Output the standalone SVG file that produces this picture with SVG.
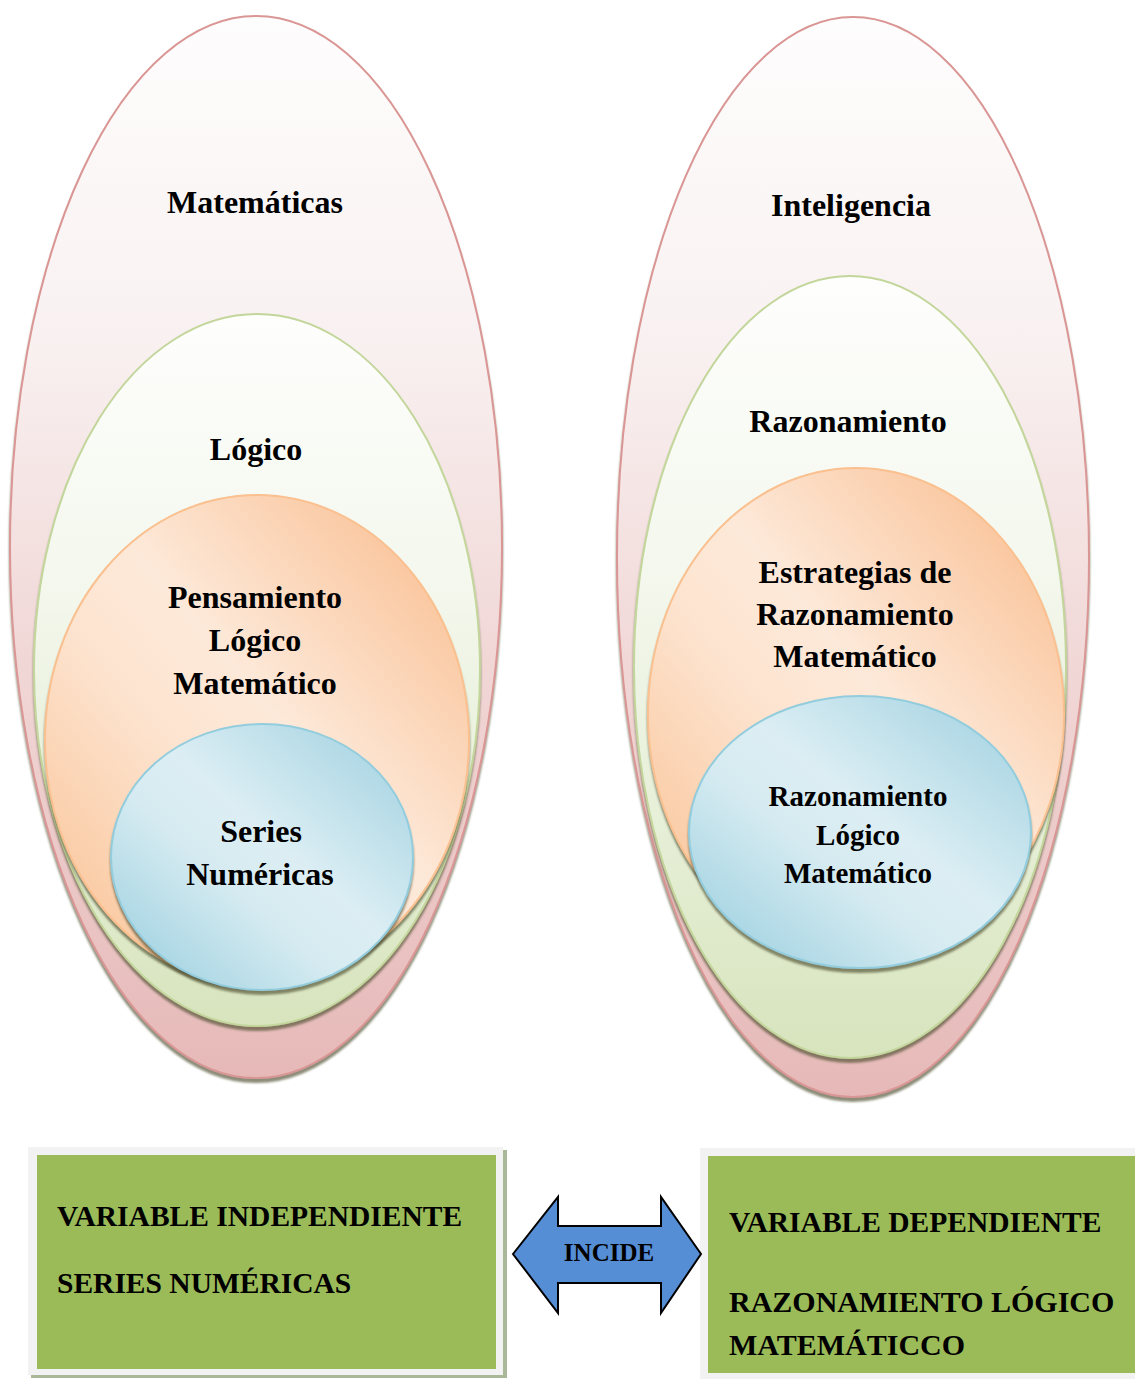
<svg xmlns="http://www.w3.org/2000/svg" width="1135" height="1379" viewBox="0 0 1135 1379">
<defs>
<style>
.t{font-family:"Liberation Serif","Times New Roman",serif;font-weight:bold;fill:#000;text-anchor:middle}
.big{font-size:32px}
.mid{font-size:29px}
.box{font-family:"Liberation Serif","Times New Roman",serif;font-weight:bold;fill:#000;font-size:29.5px}
.red{fill:url(#gRed);stroke:#d99694;stroke-width:2;filter:url(#sh)}
.grn{fill:url(#gGrn);stroke:#c3d69b;stroke-width:2;filter:url(#sh)}
.org{fill:url(#gOrg);stroke:#fac08f;stroke-width:2;filter:url(#sh)}
.blu{fill:url(#gBlu);stroke:#93cddd;stroke-width:2;filter:url(#sh)}
</style>
<filter id="sh" x="-10%" y="-10%" width="120%" height="120%">
<feDropShadow dx="0" dy="4" stdDeviation="1.2" flood-color="#50502f" flood-opacity="0.65"/>
</filter>
<linearGradient id="gRed" x1="0" y1="0" x2="0" y2="1">
<stop offset="0" stop-color="#fefdfd"/>
<stop offset="0.3" stop-color="#f9f1f1"/>
<stop offset="0.55" stop-color="#f2dcdb"/>
<stop offset="0.8" stop-color="#ebc8c7"/>
<stop offset="1" stop-color="#e6b9b8"/>
</linearGradient>
<linearGradient id="gGrn" x1="0" y1="0" x2="0" y2="1">
<stop offset="0" stop-color="#fefefd"/>
<stop offset="0.4" stop-color="#f3f7ec"/>
<stop offset="0.7" stop-color="#e6efd7"/>
<stop offset="1" stop-color="#d7e4bd"/>
</linearGradient>
<linearGradient id="gOrg" x1="1" y1="0" x2="0" y2="1">
<stop offset="0" stop-color="#f9b988"/>
<stop offset="0.45" stop-color="#fde9d9"/>
<stop offset="0.6" stop-color="#fde4d0"/>
<stop offset="1" stop-color="#f9bf8f"/>
</linearGradient>
<linearGradient id="gBlu" x1="1" y1="0" x2="0" y2="1">
<stop offset="0" stop-color="#9ccfdf"/>
<stop offset="0.45" stop-color="#dceef4"/>
<stop offset="0.6" stop-color="#d6ebf1"/>
<stop offset="0.85" stop-color="#add8e5"/>
<stop offset="1" stop-color="#c4e3ec"/>
</linearGradient>
</defs>

<g id="left-set">
<g id="matematicas"><ellipse class="red" cx="256" cy="547" rx="246" ry="531"/><text class="t big" x="255" y="213">Matemáticas</text></g>
<g id="logico"><ellipse class="grn" cx="257" cy="670" rx="223" ry="356"/><text class="t big" x="256" y="460">Lógico</text></g>
<g id="pensamiento"><ellipse class="org" cx="257" cy="740" rx="212" ry="245"/><text class="t big" x="255" y="608">Pensamiento</text><text class="t big" x="255" y="651">Lógico</text><text class="t big" x="255" y="694">Matemático</text></g>
<g id="series"><ellipse class="blu" cx="262" cy="857" rx="151" ry="133"/><text class="t big" x="261" y="842">Series</text><text class="t big" x="260" y="885">Numéricas</text></g>
</g>

<g id="right-set">
<g id="inteligencia"><ellipse class="red" cx="853" cy="557" rx="236" ry="540"/><text class="t big" x="851" y="216">Inteligencia</text></g>
<g id="razonamiento"><ellipse class="grn" cx="850" cy="667" rx="216" ry="391"/><text class="t big" x="848" y="432">Razonamiento</text></g>
<g id="estrategias"><ellipse class="org" cx="856" cy="714" rx="208" ry="246"/><text class="t big" x="855" y="583">Estrategias de</text><text class="t big" x="855" y="625">Razonamiento</text><text class="t big" x="855" y="667">Matemático</text></g>
<g id="razonamiento-logico"><ellipse class="blu" cx="860" cy="832" rx="171" ry="136"/><text class="t mid" x="858" y="806">Razonamiento</text><text class="t mid" x="858" y="845">Lógico</text><text class="t mid" x="858" y="883">Matemático</text></g>
</g>

<g id="var-independiente">
<rect x="31" y="1150" width="476" height="228" fill="#a9b898"/>
<rect x="28" y="1147" width="475" height="228" fill="#f2f2f2"/>
<rect x="37" y="1155" width="459" height="214" fill="#9bbb59"/>
<text class="box" x="57" y="1226">VARIABLE INDEPENDIENTE</text>
<text class="box" x="57" y="1293">SERIES NUMÉRICAS</text>
</g>

<g id="var-dependiente">
<rect x="703" y="1151" width="440" height="235" fill="#a9b898"/>
<rect x="700" y="1148" width="440" height="235" fill="#f2f2f2"/>
<rect x="708" y="1156" width="430" height="217" fill="#9bbb59"/>
<text class="box" x="729" y="1232">VARIABLE DEPENDIENTE</text>
<text class="box" x="729" y="1312" style="font-size:30px">RAZONAMIENTO LÓGICO</text>
<text class="box" x="729" y="1355" style="font-size:30px">MATEMÁTICCO</text>
</g>

<g id="connectors">
<g id="incide">
<path d="M513,1254 L558,1197 L558,1226 L661,1226 L661,1197 L701,1254 L661,1313 L661,1283 L558,1283 L558,1313 Z" fill="#558ed5" stroke="#000" stroke-width="2" stroke-linejoin="miter"/>
<text class="t" style="font-size:25px" x="609" y="1261">INCIDE</text>
</g>
</g>
</svg>
